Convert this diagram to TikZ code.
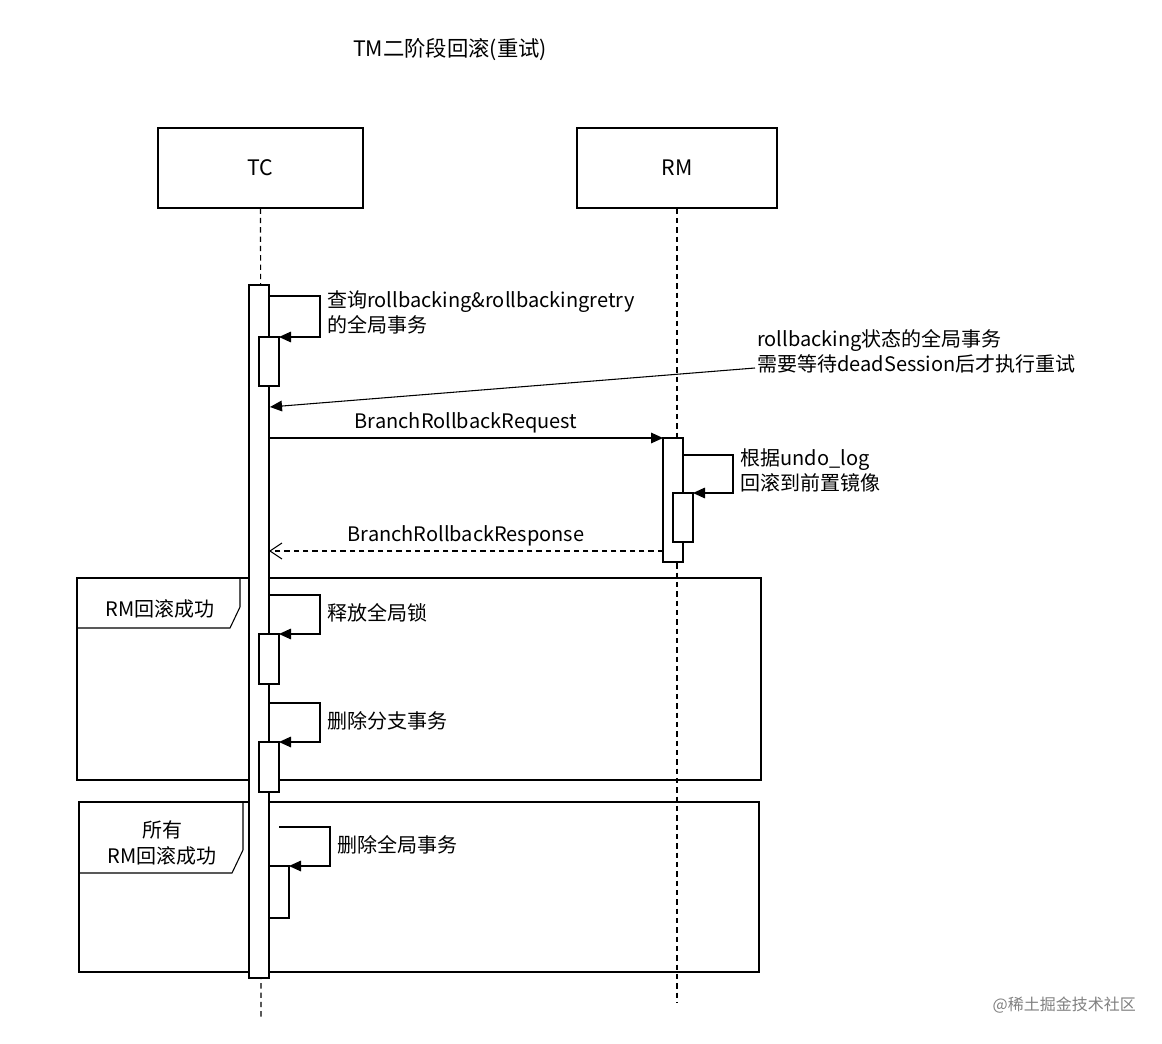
\documentclass[tikz,border=0pt]{standalone}
\usepackage{fontspec}
\setmainfont{Noto Sans CJK SC}
\usetikzlibrary{arrows.meta}
\begin{document}
\begin{tikzpicture}[x=0.75pt,y=-0.75pt,
  txt/.style={font=\fontsize{15}{19}\selectfont,inner sep=0pt},
  box/.style={draw,line width=0.8pt,fill=white},
  life/.style={draw,dash pattern=on 4pt off 3pt,line width=0.8pt},
  msg/.style={draw,line width=0.8pt,-{Triangle[length=9pt,width=8pt]}},
  ret/.style={draw,line width=0.8pt,dash pattern=on 4pt off 3pt,-{Straight Barb[length=9pt,width=12pt]}},
  frame/.style={draw,line width=0.8pt}]
\useasboundingbox (0,0) rectangle (1162,1044);
\node[font=\fontsize{16}{19}\selectfont] (title) at (450,50) {TM二阶段回滚(重试)};
% participants
\node[box,minimum width=153.75pt,minimum height=60pt,font=\fontsize{16}{19}\selectfont] (tc) at (260.5,168) {TC};
\node[box,minimum width=150pt,minimum height=60pt,font=\fontsize{16}{19}\selectfont] (rm) at (677,168) {RM};
\coordinate (tcend) at (261,1020);
\coordinate (rmend) at (677,1003);
\draw[life] (tc.south) -- (tcend);
\draw[life] (rm.south) -- (rmend);
% frames
\draw[frame] (77,578) rectangle (761,780);
\draw[frame] (77,578) -- (240,578) -- (240,607) -- (230,628) -- (77,628);
\node[txt] (f1) at (160,609) {RM回滚成功};
\draw[frame] (79,802) rectangle (759,972);
\draw[frame] (79,802) -- (243,802) -- (243,850) -- (232,873) -- (79,873);
\node[txt,align=center] (f2) at (162,843) {所有\\RM回滚成功};
% TC activation
\draw[box] (249,285) rectangle (269,978);
% self call 1
\draw[box] (259,337) rectangle (279,386);
\draw[msg] (269,296) -- (320,296) -- (320,337) -- (279,337);
\node[txt,anchor=north west,align=left] (l1) at (327,290) {查询rollbacking\&rollbackingretry\\的全局事务};
% note arrow
\node[txt,anchor=north west,align=left] (note) at (757,329) {rollbacking状态的全局事务\\需要等待deadSession后才执行重试};
\coordinate (ns) at (755,368);
\coordinate (ne) at (270,407);
\draw[msg] (ns) -- (ne);
% request
\draw[msg] (269,438) -- (663,438) node[midway,above=3pt,txt] (req) {BranchRollbackRequest};
% RM activation
\draw[box] (663,438) rectangle (683,562);
\draw[box] (673,493) rectangle (693,542);
\draw[msg] (683,455) -- (733,455) -- (733,493) -- (693,493);
\node[txt,anchor=north west,align=left] (l2) at (740,448) {根据undo\_log\\回滚到前置镜像};
% response
\draw[ret] (663,551) -- (269,551) node[midway,above=3pt,txt] (resp) {BranchRollbackResponse};
% frame 1 calls
\draw[box] (259,634) rectangle (279,684);
\draw[msg] (269,595) -- (320,595) -- (320,634) -- (279,634);
\node[txt,anchor=west] (l3) at (327,613) {释放全局锁};
\draw[box] (259,742) rectangle (279,792);
\draw[msg] (269,703) -- (320,703) -- (320,742) -- (279,742);
\node[txt,anchor=west] (l4) at (327,721) {删除分支事务};
% frame 2 call
\draw[box] (269,866) rectangle (289,918);
\draw[msg] (279,827) -- (330,827) -- (330,866) -- (289,866);
\node[txt,anchor=west] (l5) at (337,845) {删除全局事务};
\node[font=\fontsize{12}{14}\selectfont,text=gray,anchor=east,inner sep=0pt] (wm) at (1136,1005) {@稀土掘金技术社区};
\end{tikzpicture}
\end{document}
